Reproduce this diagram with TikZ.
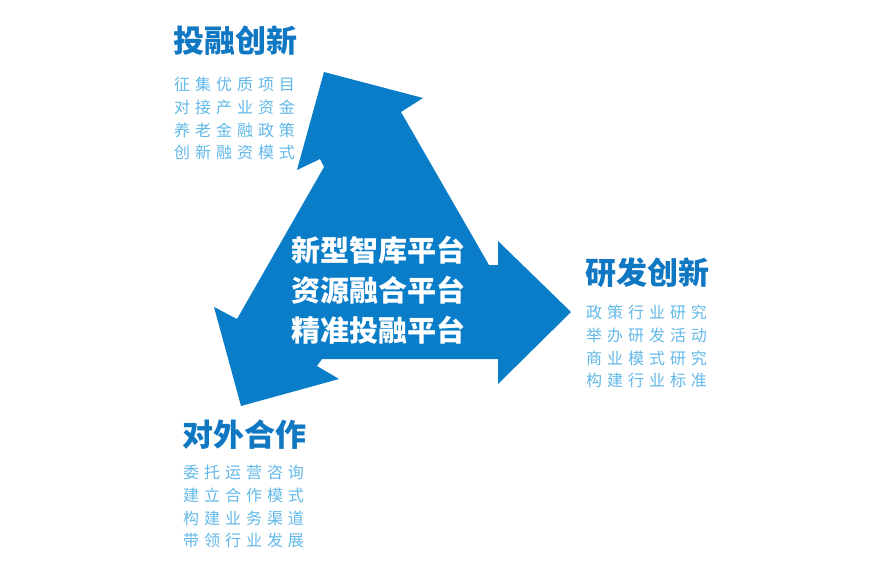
\documentclass[tikz,border=0pt]{standalone}
\usepackage{fontspec}
\newfontfamily\cjk{Noto Sans CJK SC}
\newfontfamily\cjksp{Noto Sans CJK SC}[LetterSpace=31]
\definecolor{arrowblue}{HTML}{0A7DC9}
\definecolor{headblue}{HTML}{1077C3}
\definecolor{itemblue}{HTML}{62B8E8}
\tikzset{
  head/.style={font=\cjk\bfseries\fontsize{31}{31}\selectfont, text=headblue, inner sep=0, anchor=west},
  items/.style={font=\cjksp\fontsize{16}{22.7}\selectfont, text=itemblue, inner sep=0, anchor=north west, align=left},
  hub/.style={font=\cjk\bfseries\fontsize{29}{40.3}\selectfont, text=white, inner sep=0, align=center}
}
\begin{document}
\begin{tikzpicture}[x=1pt,y=-1pt]
      \useasboundingbox (0,0) rectangle (870,580);
      \fill[arrowblue]
        (324,72) -- (423,98) -- (401,112) -- (489,265) -- (498,265)
        -- (498,241) -- (571,312) -- (498,384) -- (498,359) -- (322,359)
        -- (317,366) -- (339,379) -- (241,406) -- (214,307) -- (237,319)
        -- (324,167) -- (320,159) -- (297,170) -- cycle;
      \node[hub] (hub) at (378,290) {新型智库平台\\资源融合平台\\精准投融平台};
      \draw
        (173.5,40.5) node[head] (h1){投融创新}
        (585.5,272.5) node[head] (h2){研发创新}
        (182.5,434.5) node[head] (h3){对外合作};
      \draw
        (174,77) node[items] (l1){征集优质项目\\对接产业资金\\养老金融政策\\创新融资模式}
        (586,305) node[items] (l2){政策行业研究\\举办研发活动\\商业模式研究\\构建行业标准}
        (183,465) node[items] (l3){委托运营咨询\\建立合作模式\\构建业务渠道\\带领行业发展};
    \end{tikzpicture}
\end{document}
